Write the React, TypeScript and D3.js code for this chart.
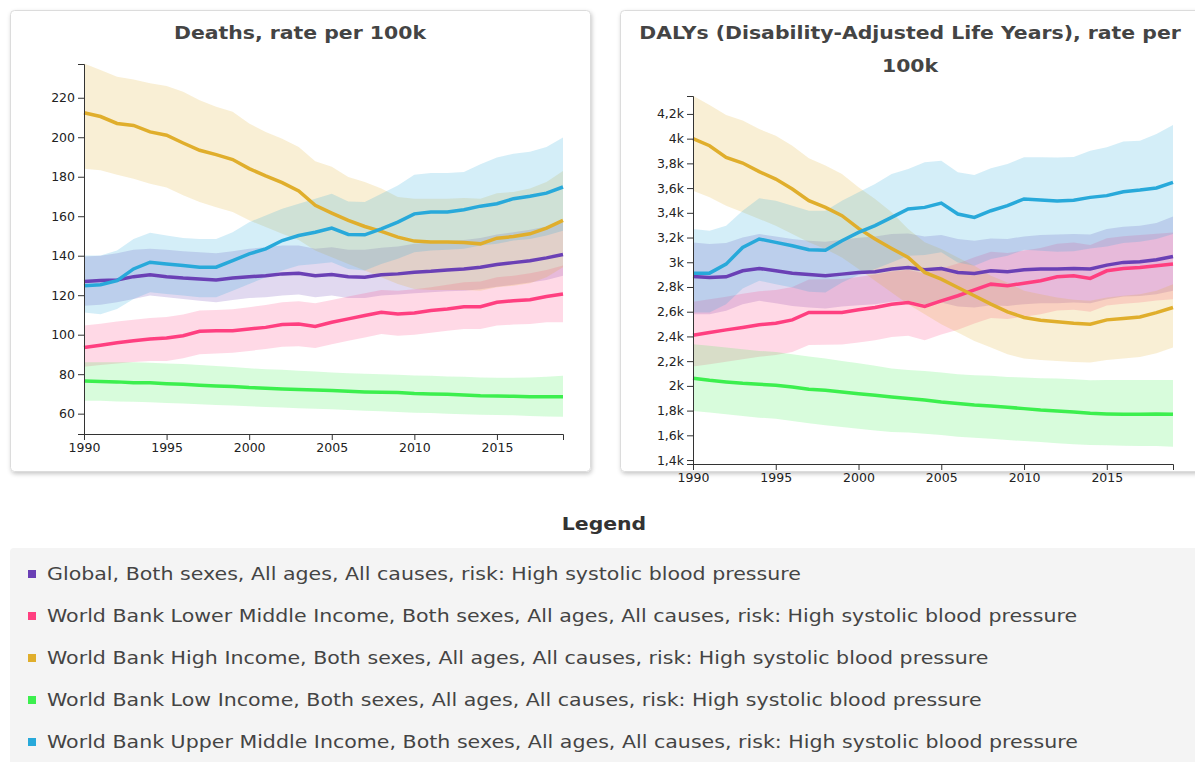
import React, { useEffect, useRef } from 'react';
import * as d3 from 'd3';

const years = [1990, 1991, 1992, 1993, 1994, 1995, 1996, 1997, 1998, 1999, 2000, 2001, 2002, 2003, 2004, 2005, 2006, 2007, 2008, 2009, 2010, 2011, 2012, 2013, 2014, 2015, 2016, 2017, 2018, 2019];
const yearTicks = [1990, 1995, 2000, 2005, 2010, 2015];
const deathTicks = [60, 80, 100, 120, 140, 160, 180, 200, 220];
const dalyTicks = [1400, 1600, 1800, 2000, 2200, 2400, 2600, 2800, 3000, 3200, 3400, 3600, 3800, 4000, 4200];

const seriesNames = [
  'Global, Both sexes, All ages, All causes, risk: High systolic blood pressure',
  'World Bank Lower Middle Income, Both sexes, All ages, All causes, risk: High systolic blood pressure',
  'World Bank High Income, Both sexes, All ages, All causes, risk: High systolic blood pressure',
  'World Bank Low Income, Both sexes, All ages, All causes, risk: High systolic blood pressure',
  'World Bank Upper Middle Income, Both sexes, All ages, All causes, risk: High systolic blood pressure',
];
const seriesColors = ['#6a40b5', '#ff3f80', '#e0ae2c', '#3cef4e', '#28a9da'];

// Deaths, rate per 100k
const deathsGlobal = [127, 127.4, 127.7, 129.4, 130.3, 129.4, 128.7, 128.2, 127.7, 128.7, 129.4, 129.8, 130.8, 131.1, 129.8, 130.5, 129.4, 129.1, 130.3, 130.8, 131.6, 132.1, 132.8, 133.3, 134.2, 135.5, 136.5, 137.5, 138.9, 140.6];
const deathsGlobalHi = [139.6, 140, 141.3, 143, 143.5, 143, 142.3, 141.8, 141.3, 142.3, 143.5, 144.3, 145.2, 145.2, 143.5, 144.3, 143, 143, 144, 144.7, 146, 146.7, 147.4, 148, 149, 150.8, 151.9, 153.1, 154.8, 157];
const deathsGlobalLo = [114.7, 115.2, 116.4, 118.1, 119.8, 119, 118.1, 117.2, 116.4, 117.6, 118.6, 118.9, 119.8, 120.3, 118.9, 119.8, 118.6, 118.6, 119.8, 120.3, 121, 121.5, 122, 122.3, 123, 124.3, 125.3, 126.4, 127.7, 129.8];

const deathsLowerMid = [93.5, 94.7, 95.9, 96.9, 97.8, 98.3, 99.5, 101.7, 102, 102, 102.9, 103.7, 105.1, 105.4, 104.2, 106.3, 108, 109.7, 111.3, 110.5, 111, 112.2, 113, 114.2, 114.2, 116.4, 117.2, 117.7, 119.3, 120.6];
const deathsLowerMidHi = [104.6, 105.5, 106.7, 107.6, 108.5, 109, 110.2, 112.2, 112.5, 112.9, 113.9, 115, 116.4, 116.9, 115.9, 117.6, 119.3, 121, 122.6, 122.3, 123, 124, 125.3, 126.5, 127, 129.1, 129.9, 131.1, 132.8, 135];
const deathsLowerMidLo = [83.7, 84.7, 85.4, 86.2, 86.7, 86.7, 88.1, 90.1, 90.5, 90.8, 91.8, 92.7, 93.9, 94.2, 93.2, 95.2, 96.9, 98.6, 100.3, 99.5, 100, 101, 102, 102.9, 102.9, 104.6, 105.1, 105.4, 106.3, 106.3];

const deathsHigh = [212.4, 210.5, 207, 206, 202.7, 201, 197.1, 193.4, 191.2, 188.7, 184.1, 180.4, 177, 172.8, 165.5, 161.6, 157.9, 154.8, 152.3, 149.4, 147.4, 147, 147, 146.7, 146, 148.9, 149.7, 151.1, 154, 157.9];
const deathsHighHi = [237.4, 234, 230.7, 229.3, 227.3, 225.9, 223, 218.8, 215.4, 212.9, 207, 202.7, 199.3, 195.1, 187.8, 185, 179.9, 177.3, 174, 169.7, 168.9, 168.9, 168.9, 169.2, 168.9, 171.7, 172.3, 174, 177.3, 182.9];
const deathsHighLo = [184.1, 183.3, 181, 179, 176.5, 174.5, 170.6, 167.2, 164.6, 162.1, 157.9, 154.5, 151.1, 148, 142.6, 139.2, 135.8, 132.5, 129.1, 125.7, 123.1, 122.6, 122.6, 122.6, 122.3, 124, 124.8, 126, 129.1, 134.2];

const deathsLow = [76.6, 76.3, 76.1, 75.7, 75.6, 75.2, 74.9, 74.4, 74, 73.7, 73.2, 72.9, 72.5, 72.2, 72, 71.7, 71.3, 71, 70.8, 70.7, 70.2, 70, 69.8, 69.5, 69.1, 69, 68.8, 68.6, 68.6, 68.6];
const deathsLowHi = [86, 86, 86.1, 86, 85.8, 85.4, 85.1, 84.6, 84.1, 83.6, 83, 82.5, 82.2, 81.7, 81.4, 80.8, 80.5, 80.2, 80, 79.7, 79.3, 79.2, 78.8, 78.7, 78.3, 78.2, 78.2, 78.3, 78.7, 79.2];
const deathsLowLo = [66.5, 66.5, 66.2, 66, 65.8, 65.4, 65.1, 64.8, 64.4, 64.1, 63.7, 63.4, 63.1, 62.7, 62.5, 62.2, 61.9, 61.5, 61.2, 60.8, 60.5, 60.3, 60, 59.7, 59.5, 59.3, 59.2, 58.8, 58.6, 58.5];

const deathsUpperMid = [124.8, 125.3, 127.4, 133.3, 136.7, 135.8, 135, 134.2, 134.2, 137.5, 140.9, 143.5, 147.7, 150.2, 151.9, 154, 150.8, 150.6, 153.6, 157, 161.2, 162.1, 162.1, 163.3, 165.1, 166.3, 168.9, 170.1, 171.7, 174.8];
const deathsUpperMidHi = [140.1, 140.1, 142.6, 148.5, 151.6, 150.2, 149, 148.5, 148.5, 151.9, 157, 160.4, 163.8, 166.3, 168.9, 171.4, 167.5, 167.2, 171.4, 175.6, 181, 181.9, 181.9, 182.4, 186.3, 189.7, 191.7, 192.6, 195.1, 199.9];
const deathsUpperMidLo = [111.3, 110.4, 113, 118.1, 121.5, 120.6, 119.8, 118.9, 118.9, 122.3, 125.7, 129.1, 132.5, 135, 135.8, 136.7, 133.3, 132.5, 135.8, 138.4, 141.8, 142.6, 143, 143.5, 145.2, 146, 147.7, 148.5, 150.2, 152.7];

// DALYs, rate per 100k
const dalyGlobal = [2885, 2877, 2882, 2931, 2950, 2931, 2912, 2901, 2890, 2904, 2918, 2923, 2945, 2958, 2939, 2950, 2918, 2909, 2931, 2923, 2939, 2945, 2945, 2950, 2945, 2977, 2999, 3004, 3020, 3047];
const dalyGlobalHi = [3160, 3147, 3155, 3201, 3228, 3209, 3188, 3174, 3166, 3182, 3198, 3209, 3228, 3233, 3209, 3220, 3188, 3174, 3193, 3188, 3209, 3220, 3225, 3228, 3225, 3269, 3287, 3296, 3317, 3371];
const dalyGlobalLo = [2580, 2580, 2607, 2661, 2688, 2669, 2647, 2634, 2626, 2642, 2653, 2661, 2680, 2688, 2661, 2674, 2642, 2634, 2653, 2647, 2661, 2669, 2669, 2674, 2669, 2701, 2723, 2728, 2742, 2769];

const dalyLowerMid = [2410, 2432, 2453, 2472, 2494, 2507, 2534, 2594, 2594, 2594, 2615, 2634, 2661, 2675, 2642, 2688, 2729, 2777, 2823, 2810, 2831, 2850, 2882, 2890, 2869, 2931, 2950, 2958, 2972, 2985];
const dalyLowerMidHi = [2680, 2700, 2720, 2745, 2765, 2775, 2800, 2860, 2862, 2865, 2880, 2900, 2925, 2940, 2910, 2950, 2990, 3040, 3085, 3075, 3095, 3115, 3150, 3160, 3140, 3195, 3210, 3220, 3230, 3240];
const dalyLowerMidLo = [2156, 2175, 2195, 2215, 2235, 2250, 2275, 2330, 2332, 2335, 2350, 2370, 2395, 2405, 2370, 2415, 2455, 2505, 2550, 2540, 2560, 2580, 2610, 2615, 2600, 2650, 2665, 2675, 2690, 2700];

const dalyHigh = [4000, 3943, 3849, 3803, 3733, 3673, 3593, 3498, 3444, 3377, 3274, 3188, 3112, 3039, 2918, 2864, 2796, 2729, 2661, 2599, 2553, 2531, 2518, 2507, 2499, 2534, 2545, 2558, 2593, 2634];
const dalyHighHi = [4348, 4273, 4192, 4146, 4078, 4024, 3943, 3841, 3782, 3714, 3606, 3512, 3404, 3269, 3161, 3107, 3039, 2972, 2890, 2836, 2769, 2742, 2715, 2696, 2688, 2715, 2729, 2742, 2769, 2823];
const dalyHighLo = [3579, 3525, 3458, 3404, 3350, 3296, 3228, 3161, 3107, 3039, 2945, 2850, 2756, 2661, 2580, 2499, 2432, 2364, 2310, 2256, 2221, 2210, 2202, 2194, 2189, 2210, 2221, 2234, 2264, 2310];

const dalyLow = [2062, 2045, 2032, 2021, 2013, 2005, 1991, 1972, 1964, 1951, 1937, 1924, 1910, 1897, 1886, 1870, 1857, 1846, 1838, 1827, 1816, 1805, 1797, 1789, 1778, 1773, 1770, 1770, 1773, 1770];
const dalyLowHi = [2337, 2324, 2310, 2297, 2283, 2275, 2256, 2237, 2221, 2202, 2183, 2162, 2140, 2129, 2121, 2108, 2094, 2086, 2081, 2072, 2067, 2062, 2059, 2054, 2045, 2048, 2048, 2048, 2048, 2048];
const dalyLowLo = [1797, 1784, 1770, 1757, 1743, 1735, 1716, 1697, 1681, 1667, 1654, 1640, 1627, 1622, 1613, 1603, 1589, 1581, 1573, 1562, 1554, 1546, 1535, 1527, 1522, 1519, 1516, 1514, 1514, 1508];

const dalyUpperMid = [2912, 2912, 2985, 3120, 3188, 3161, 3134, 3101, 3098, 3174, 3242, 3296, 3363, 3431, 3444, 3479, 3390, 3363, 3417, 3458, 3512, 3503, 3495, 3501, 3525, 3539, 3571, 3584, 3601, 3647];
const dalyUpperMidHi = [3269, 3255, 3296, 3417, 3517, 3498, 3458, 3417, 3417, 3498, 3566, 3633, 3714, 3755, 3809, 3822, 3728, 3706, 3760, 3795, 3849, 3849, 3847, 3852, 3903, 3930, 3976, 3984, 4038, 4111];
const dalyUpperMidLo = [2594, 2594, 2661, 2788, 2850, 2823, 2796, 2761, 2755, 2836, 2896, 2945, 2999, 3053, 3058, 3080, 2999, 2972, 3026, 3053, 3101, 3093, 3085, 3090, 3112, 3128, 3155, 3166, 3188, 3228];

const deathsMean = [deathsGlobal, deathsLowerMid, deathsHigh, deathsLow, deathsUpperMid];
const deathsHi = [deathsGlobalHi, deathsLowerMidHi, deathsHighHi, deathsLowHi, deathsUpperMidHi];
const deathsLo = [deathsGlobalLo, deathsLowerMidLo, deathsHighLo, deathsLowLo, deathsUpperMidLo];
const dalyMean = [dalyGlobal, dalyLowerMid, dalyHigh, dalyLow, dalyUpperMid];
const dalyHi = [dalyGlobalHi, dalyLowerMidHi, dalyHighHi, dalyLowHi, dalyUpperMidHi];
const dalyLo = [dalyGlobalLo, dalyLowerMidLo, dalyHighLo, dalyLowLo, dalyUpperMidLo];

const FONT = '"DejaVu Sans", Verdana, sans-serif';
// the original uses Verdana, which is wider than what we have
const WIDE = 1.2;

const fmtK = (v) => (v / 1000).toString().replace('.', ',') + 'k';

const ChartPanel = ({ left, top, titleLines, mean, hi, lo, domain, ticks, tickFormat, plot }) => {
    const xAxisRef = useRef();
    const yAxisRef = useRef();

    const xScale = d3.scaleLinear().domain([years[0], years[years.length - 1]]).range([plot.x0, plot.x1]);
    const yScale = d3.scaleLinear().domain(domain).range([plot.y1, plot.y0]);

    useEffect(() => {
        const xa = d3.select(xAxisRef.current);
        xa.call(d3.axisBottom(xScale).tickValues(yearTicks).tickFormat(d3.format('d')));
        const ya = d3.select(yAxisRef.current);
        ya.call(d3.axisLeft(yScale).tickValues(ticks).tickFormat(tickFormat));
        [xa, ya].forEach(a => {
            a.selectAll('text').attr('font-size', 12.5).attr('font-family', FONT).attr('fill', '#222');
            a.selectAll('path, line').attr('stroke', '#333');
        });
    }, []);

    const area = (h, l) => d3.area()
        .x((d, i) => xScale(years[i]))
        .y0((d, i) => yScale(l[i]))
        .y1((d, i) => yScale(h[i]))(h);
    const line = (m) => d3.line()
        .x((d, i) => xScale(years[i]))
        .y(d => yScale(d))(m);

    return (
        <g>
            <rect x={left + 0.5} y={top + 0.5} width={580} height={461} rx={4} fill="#fff" stroke="#dcdcdc" filter="url(#shadow)" />
            {titleLines.map((t, i) => (
                <text key={i} transform={`translate(${left + 290},${top + 29 + i * 33}) scale(${WIDE},1)`} textAnchor="middle" fontFamily={FONT} fontWeight="bold" fontSize={17} fill="#444">{t}</text>
            ))}
            {mean.map((m, i) => (
                <path key={'a' + i} d={area(hi[i], lo[i])} fill={seriesColors[i]} fillOpacity={0.2} />
            ))}
            {mean.map((m, i) => (
                <path key={'l' + i} d={line(m)} fill="none" stroke={seriesColors[i]} strokeWidth={3.5} />
            ))}
            <g ref={xAxisRef} transform={`translate(0,${plot.y1})`} />
            <g ref={yAxisRef} transform={`translate(${plot.x0},0)`} />
        </g>
    );
};

export default function App() {
    return (
        <svg width={1195} height={762} style={{ position: 'absolute', left: 0, top: 0, display: 'block' }}>
            <defs>
                <filter id="shadow" x="-5%" y="-5%" width="110%" height="110%">
                    <feDropShadow dx="1" dy="2" stdDeviation="2" floodColor="#000" floodOpacity="0.22" />
                </filter>
            </defs>
            <rect width={1195} height={762} fill="#fff" />
            <ChartPanel
                left={10} top={10}
                titleLines={['Deaths, rate per 100k']}
                mean={deathsMean} hi={deathsHi} lo={deathsLo}
                domain={[49.7, 237.1]} ticks={deathTicks} tickFormat={d3.format('d')}
                plot={{ x0: 84, x1: 563, y0: 64, y1: 434 }}
            />
            <ChartPanel
                left={620} top={10}
                titleLines={['DALYs (Disability-Adjusted Life Years), rate per', '100k']}
                mean={dalyMean} hi={dalyHi} lo={dalyLo}
                domain={[1368, 4345]} ticks={dalyTicks} tickFormat={fmtK}
                plot={{ x0: 693, x1: 1173, y0: 96, y1: 464 }}
            />
            <text transform={`translate(604,530) scale(${WIDE},1)`} textAnchor="middle" fontFamily={FONT} fontWeight="bold" fontSize={17} fill="#333">Legend</text>
            <rect x={10} y={548} width={1200} height={240} rx={4} fill="#f4f4f4" />
            {seriesNames.map((name, i) => (
                <g key={name} transform={`translate(0,${574 + i * 42})`}>
                    <rect x={28} y={-4} width={8} height={8} fill={seriesColors[i]} />
                    <text transform={`translate(47,6) scale(${WIDE + 0.01},1)`} fontFamily={FONT} fontSize={17} fill="#444">{name}</text>
                </g>
            ))}
        </svg>
    );
}
